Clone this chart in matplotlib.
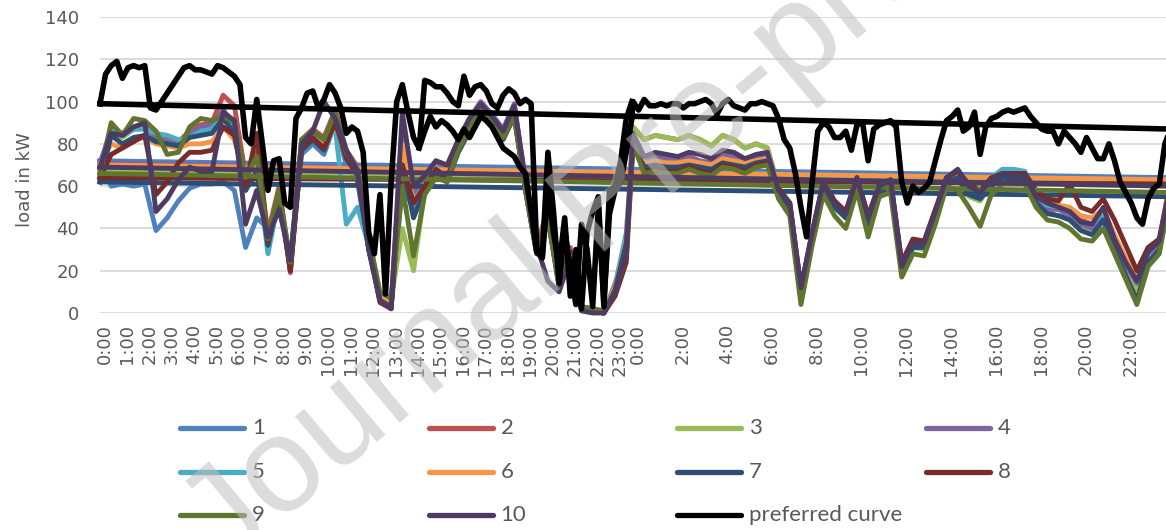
import matplotlib
matplotlib.use("Agg")
import matplotlib.pyplot as plt
from matplotlib.lines import Line2D
import numpy as np

# Households 1..10 plus the preferred load curve
labels = ['1', '2', '3', '4', '5', '6', '7', '8', '9', '10']
colors = ['#4F81BD', '#C0504D', '#9BBB59', '#8064A2', '#4BACC6',
          '#F79646', '#2C4D75', '#772C2A', '#5F7530', '#4D3B62']

# x tick labels (hourly on day 1, every two hours on day 2)
ticks_day1 = ['%d:00' % h for h in range(24)]
ticks_day2 = ['%d:00' % h for h in range(0, 24, 2)]

# preferred curve, 15 min steps, day 1 (0:00 - 23:45)
pref_day1 = [99, 113, 117, 119, 111, 116, 117, 116, 117, 97,
             96, 100, 104, 108, 112, 116, 117, 115, 115, 114,
             113, 117, 116, 114, 112, 108, 83, 80, 101, 80,
             58, 72, 73, 52, 50, 92, 97, 104, 105, 97,
             101, 108, 104, 97, 85, 88, 86, 76, 38, 28,
             56, 9, 62, 100, 108, 95, 83, 78, 110, 109,
             107, 107, 104, 100, 98, 112, 103, 107, 108, 105,
             99, 97, 103, 106, 104, 99, 101, 99, 31, 27,
             76, 48, 14, 40, 20, 4, 42, 30, 3, 50,
             5, 47, 58, 62, 76, 92]
# second pass of the preferred curve on day 1 afternoon (14:15 - 23:45)
pref_day1_late = [78, 86, 93, 88, 91, 89, 86, 82, 87, 83,
                  88, 93, 91, 88, 83, 78, 76, 74, 69, 66,
                  48, 29, 26, 58, 38, 22, 45, 8, 30, 2,
                  38, 48, 55, 3, 58, 60, 72, 92, 100]
# preferred curve, day 2
pref_day2 = [100, 96, 101, 98, 98, 99, 98, 99, 99, 97,
             99, 99, 100, 101, 99, 94, 99, 101, 98, 97,
             96, 99, 99, 100, 99, 98, 92, 82, 78, 66,
             50, 36, 62, 86, 90, 88, 83, 83, 86, 77,
             89, 90, 72, 87, 89, 90, 91, 88, 62, 52,
             60, 57, 59, 62, 72, 82, 91, 93, 96, 86,
             88, 95, 75, 88, 92, 93, 95, 96, 95, 96,
             97, 93, 90, 87, 86, 86, 80, 86, 83, 80,
             76, 83, 78, 73, 73, 80, 72, 62, 57, 52,
             45, 42, 54, 59, 61, 80, 87]

# household loads, 30 min steps, day 1
hh1_day1 = [72, 60, 61, 60, 61, 39, 45, 53, 59, 61, 61, 62, 58, 31, 45, 40, 55, 25, 75, 80, 75, 90, 70, 62,
            30, 8, 3, 60, 50, 60, 68, 64, 78, 88, 96, 90, 83, 94, 58, 28, 45, 12, 28, 2, 1, 0, 10, 36]
hh2_day1 = [70, 87, 85, 88, 89, 84, 82, 81, 86, 89, 90, 103, 98, 65, 76, 38, 60, 19, 82, 87, 83, 96, 77, 69,
            33, 7, 4, 82, 54, 63, 71, 67, 81, 91, 99, 93, 86, 97, 62, 31, 50, 16, 31, 3, 2, 0, 14, 30]
hh3_day1 = [68, 85, 83, 87, 87, 83, 81, 80, 85, 87, 88, 94, 87, 63, 73, 34, 57, 23, 80, 85, 81, 94, 75, 67,
            36, 9, 6, 40, 20, 58, 66, 63, 79, 90, 99, 91, 84, 95, 60, 29, 47, 14, 29, 3, 2, 1, 11, 26]
hh4_day1 = [71, 86, 84, 87, 88, 83, 81, 80, 85, 88, 89, 96, 89, 58, 71, 33, 56, 21, 81, 86, 80, 96, 76, 68,
            34, 8, 4, 84, 57, 65, 72, 68, 82, 92, 100, 94, 87, 99, 61, 30, 48, 15, 30, 2, 1, 0, 12, 31]
hh5_day1 = [69, 86, 84, 87, 87, 85, 84, 82, 83, 86, 87, 93, 86, 60, 70, 28, 55, 23, 79, 84, 79, 88, 42, 50,
            32, 7, 3, 75, 53, 61, 69, 65, 79, 89, 97, 91, 84, 95, 59, 29, 46, 13, 28, 2, 1, 0, 13, 38]
hh6_day1 = [70, 80, 78, 82, 83, 80, 79, 78, 80, 80, 81, 88, 82, 62, 68, 36, 55, 22, 78, 83, 79, 90, 74, 66,
            34, 8, 5, 80, 52, 60, 68, 64, 78, 88, 95, 90, 83, 93, 59, 29, 46, 14, 29, 3, 2, 0, 12, 34]
hh7_day1 = [62, 84, 80, 83, 84, 81, 80, 79, 83, 84, 85, 92, 85, 58, 67, 32, 55, 20, 77, 82, 77, 92, 73, 65,
            30, 6, 3, 70, 45, 58, 66, 62, 76, 86, 94, 89, 82, 93, 58, 28, 45, 13, 28, 2, 1, 0, 11, 33]
hh8_day1 = [64, 75, 78, 81, 84, 56, 62, 71, 76, 76, 77, 88, 84, 60, 85, 34, 56, 20, 78, 83, 78, 90, 74, 66,
            32, 5, 2, 70, 52, 60, 68, 64, 78, 88, 96, 90, 83, 93, 59, 29, 46, 14, 29, 2, 1, 0, 8, 24]
hh9_day1 = [66, 90, 84, 92, 91, 86, 75, 76, 88, 92, 91, 93, 90, 64, 74, 35, 58, 24, 82, 86, 82, 95, 76, 68,
            36, 10, 7, 60, 27, 56, 64, 62, 77, 88, 96, 90, 83, 93, 58, 28, 45, 13, 27, 3, 2, 1, 10, 28]
hh10_day1 = [69, 85, 84, 88, 90, 48, 54, 63, 69, 67, 67, 95, 91, 42, 58, 36, 49, 25, 80, 86, 100, 92, 77, 67,
             30, 6, 2, 95, 60, 65, 72, 70, 82, 92, 99, 93, 86, 98, 63, 32, 15, 10, 26, 1, 0, 0, 10, 28]

# household loads, 30 min steps, day 2
hh1_day2 = [80, 70, 71, 70, 70, 71, 70, 69, 72, 71, 70, 71, 72,
            57, 50, 9, 36, 60, 51, 46, 62, 43, 59, 61, 21, 32, 32, 47, 63, 66, 58, 56,
            62, 66, 65, 65, 55, 51, 50, 47, 42, 41, 48, 34, 23, 13, 27, 33, 64]
hh2_day2 = [88, 82, 84, 83, 82, 84, 82, 79, 84, 82, 78, 80, 78,
            59, 52, 11, 37, 62, 53, 48, 64, 46, 60, 63, 23, 34, 33, 48, 64, 67, 60, 58,
            63, 66, 66, 66, 55, 52, 51, 49, 44, 42, 49, 36, 25, 15, 29, 34, 62]
hh3_day2 = [88, 82, 84, 83, 82, 84, 82, 79, 84, 82, 78, 80, 78,
            57, 50, 8, 35, 60, 50, 45, 62, 41, 58, 61, 19, 31, 30, 45, 62, 63, 55, 53,
            61, 64, 64, 64, 53, 48, 46, 45, 40, 38, 46, 32, 21, 11, 26, 31, 60]
hh4_day2 = [84, 72, 74, 73, 73, 74, 72, 71, 75, 74, 72, 74, 74,
            57, 48, 6, 36, 61, 52, 47, 63, 44, 59, 62, 21, 33, 33, 47, 63, 66, 59, 56,
            62, 66, 65, 65, 54, 49, 49, 46, 42, 40, 48, 34, 23, 14, 28, 33, 61]
hh5_day2 = [82, 70, 71, 70, 71, 71, 70, 69, 72, 71, 70, 71, 72,
            57, 51, 10, 37, 61, 52, 47, 63, 44, 60, 62, 23, 34, 34, 48, 64, 67, 61, 58,
            64, 68, 68, 67, 56, 51, 50, 48, 43, 42, 48, 35, 24, 15, 29, 34, 62]
hh6_day2 = [83, 71, 72, 71, 71, 72, 71, 70, 73, 72, 71, 72, 73,
            58, 51, 11, 37, 61, 52, 47, 63, 44, 60, 62, 23, 34, 33, 48, 64, 66, 60, 57,
            63, 66, 65, 65, 56, 53, 51, 50, 46, 45, 49, 37, 26, 17, 30, 35, 63]
hh7_day2 = [80, 69, 70, 69, 69, 70, 69, 68, 71, 70, 69, 71, 72,
            56, 49, 9, 35, 59, 50, 45, 61, 42, 58, 60, 20, 31, 31, 46, 62, 64, 56, 54,
            60, 64, 63, 63, 52, 47, 46, 44, 39, 37, 44, 30, 18, 6, 24, 30, 55]
hh8_day2 = [80, 67, 68, 67, 67, 69, 67, 66, 70, 69, 67, 70, 71,
            59, 52, 12, 38, 62, 53, 48, 64, 46, 61, 63, 24, 35, 34, 49, 64, 67, 61, 58,
            64, 66, 66, 66, 58, 54, 53, 61, 50, 48, 54, 44, 32, 20, 31, 35, 61]
hh9_day2 = [80, 66, 67, 66, 66, 68, 66, 65, 69, 68, 66, 69, 70,
            54, 46, 4, 32, 56, 46, 40, 58, 36, 55, 57, 17, 28, 27, 42, 60, 58, 50, 41,
            56, 61, 61, 61, 50, 44, 43, 40, 35, 34, 40, 28, 16, 4, 22, 28, 57]
hh10_day2 = [85, 74, 76, 75, 74, 76, 75, 73, 77, 76, 73, 75, 76,
             58, 52, 12, 38, 62, 52, 47, 64, 45, 60, 63, 22, 33, 33, 48, 64, 68, 60, 57,
             63, 66, 65, 65, 55, 52, 50, 48, 43, 42, 50, 35, 24, 15, 29, 34, 60]

loads_day1 = [hh1_day1, hh2_day1, hh3_day1, hh4_day1, hh5_day1,
              hh6_day1, hh7_day1, hh8_day1, hh9_day1, hh10_day1]
loads_day2 = [hh1_day2, hh2_day2, hh3_day2, hh4_day2, hh5_day2,
              hh6_day2, hh7_day2, hh8_day2, hh9_day2, hh10_day2]

# time axis in hours, second day starts slightly before 24 h
DAY2 = 23.8
t1_q = np.arange(len(pref_day1)) * 0.25
t2_q = DAY2 + np.arange(len(pref_day2)) * 0.25
t1_h = np.arange(len(hh1_day1)) * 0.5
t2_h = DAY2 + np.arange(len(hh1_day2)) * 0.5

W, H = 1166, 530
fig = plt.figure(figsize=(W / 100, H / 100), dpi=100)
ax = fig.add_axes([100 / W, 1 - 313 / H, 1066 / W, 296 / H])

# households, the series wraps back to its first value at the end
for d1, d2, c in zip(loads_day1, loads_day2, colors):
    x = np.concatenate([t1_h, t2_h, t1_h[:1]])
    y = d1 + d2 + d1[:1]
    ax.plot(x, y, color=c, lw=3.5, solid_joinstyle='round', clip_on=False, zorder=2)

x = np.concatenate([t1_q, t2_q, t1_q[:1]])
y = pref_day1 + pref_day2 + pref_day1[:1]
ax.plot(x, y, color='black', lw=4.0, solid_joinstyle='round', clip_on=False, zorder=3)
ax.plot(t1_q[57:], pref_day1_late, color='black', lw=4.0, solid_joinstyle='round',
        clip_on=False, zorder=3)

ax.set_xlim(0, 47.6)
ax.set_ylim(0, 140)
ax.set_yticks(range(0, 141, 20))
ax.grid(axis='y', color='#D9D9D9', lw=1.3)
ax.set_axisbelow(True)
for s in ax.spines.values():
    s.set_visible(False)

# category labels sit a little right of the first sample
tick_pos = [h + 0.2 for h in range(24)] + [DAY2 + 0.2 + h for h in range(0, 24, 2)]
ax.set_xticks(tick_pos)
ax.set_xticklabels(ticks_day1 + ticks_day2, rotation=90)
ax.tick_params(length=0, colors='#595959', labelsize=13)
ax.tick_params(axis='y', pad=15)
ax.tick_params(axis='x', pad=8)

ax.set_ylabel('load in kW', fontsize=13, color='#595959')
ax.yaxis.set_label_coords(-0.062, 0.45)

# legend in four columns
names = labels + ['preferred curve']
legend_colors = colors + ['black']
for n, (name, c) in enumerate(zip(names, legend_colors)):
    row, col = divmod(n, 4)
    x0 = 180 + 248.5 * col
    y0 = 428 + 43.5 * row
    fig.add_artist(Line2D([x0 / W, (x0 + 64) / W], [1 - y0 / H] * 2, color=c, lw=3.8,
                          solid_capstyle='round'))
    fig.text((x0 + 72) / W, 1 - y0 / H, name, fontsize=16, color='#595959',
             va='center', ha='left', family=['Lato', 'DejaVu Sans'])

# watermark
fig.text(225 / W, 1 - 570 / H, 'Journal Pre-proof', rotation=40, rotation_mode='anchor',
         ha='left', va='baseline', fontsize=98, color='#BFBFBF', alpha=0.55,
         family=['Liberation Sans', 'DejaVu Sans'], zorder=10)

fig.savefig('out.png', dpi=100)
